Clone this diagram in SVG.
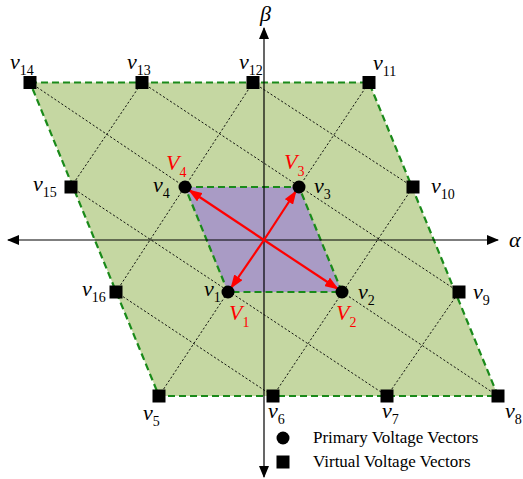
<svg xmlns="http://www.w3.org/2000/svg" width="523" height="479" viewBox="0 0 523 479">
<defs>
<style>
.dot{stroke:#000;stroke-width:0.9;stroke-dasharray:2.2,2;fill:none}
.bd{stroke:#1a8a1a;stroke-width:2.2;stroke-dasharray:7,4;fill:none}
.ax{stroke:#000;stroke-width:1.2;fill:none}
.ra{stroke:#f00;stroke-width:2.2;fill:none;marker-end:url(#rh)}
.lbl{font-family:"Liberation Serif","Times New Roman",serif;font-style:italic;font-size:22px;fill:#000}
.sub{font-style:normal;font-size:14px}
.red{fill:#f00}
.leg{font-family:"Liberation Serif","Times New Roman",serif;font-size:17px;fill:#000}
</style>
<marker id="ah2" markerWidth="12" markerHeight="10" refX="11" refY="5" orient="auto-start-reverse" markerUnits="userSpaceOnUse"><path d="M0,0 L12,5 L0,10 Z" fill="#000"/></marker>
<marker id="rh" markerWidth="14" markerHeight="10" refX="13" refY="5" orient="auto" markerUnits="userSpaceOnUse"><path d="M0,0 L14,5 L0,10 Z" fill="#f00"/></marker>
<rect id="sq" x="-6.5" y="-6.5" width="13" height="13" fill="#000"/>
</defs>

<g id="regions">
<polygon points="30,82.5 369,82.5 498,396 159,396" fill="#c5d7a2"/>
<polygon points="185,187 299,187 342,292 228,292" fill="#a99bc5"/>
</g>

<g id="connectors">
<g id="grid">
<line class="dot" x1="71" y1="187" x2="142" y2="82.5"/>
<line class="dot" x1="116" y1="292" x2="253" y2="82.5"/>
<line class="dot" x1="159" y1="396" x2="228" y2="292"/>
<line class="dot" x1="299" y1="187" x2="369" y2="82.5"/>
<line class="dot" x1="273" y1="396" x2="413" y2="187"/>
<line class="dot" x1="387" y1="396" x2="459" y2="292"/>
<line class="dot" x1="116" y1="292" x2="273" y2="396"/>
<line class="dot" x1="71" y1="187" x2="387" y2="396"/>
<line class="dot" x1="30" y1="82.5" x2="185" y2="187"/>
<line class="dot" x1="342" y1="292" x2="498" y2="396"/>
<line class="dot" x1="142" y1="82.5" x2="459" y2="292"/>
<line class="dot" x1="253" y1="82.5" x2="413" y2="187"/>
</g>
<g id="borders">
<polygon class="bd" points="30,82.5 369,82.5 498,396 159,396"/>
<polygon class="bd" points="185,187 299,187 342,292 228,292"/>
</g>
<g id="axes">
<line class="ax" x1="8" y1="240" x2="498" y2="240" marker-start="url(#ah2)" marker-end="url(#ah2)"/>
<line class="ax" x1="264" y1="477" x2="264" y2="28" marker-start="url(#ah2)" marker-end="url(#ah2)"/>
</g>
<g id="vectors">
<line class="ra" x1="264" y1="240" x2="189" y2="190"/>
<line class="ra" x1="264" y1="240" x2="296" y2="191"/>
<line class="ra" x1="264" y1="240" x2="338" y2="289"/>
<line class="ra" x1="264" y1="240" x2="231" y2="288"/>
</g>
</g>

<g id="primary">
<circle id="v1" cx="228" cy="292" r="6.5"/>
<circle id="v2" cx="342" cy="292" r="6.5"/>
<circle id="v3" cx="299" cy="187" r="6.5"/>
<circle id="v4" cx="185" cy="187" r="6.5"/>
</g>
<g id="virtual">
<use id="v5" href="#sq" x="159" y="396"/>
<use id="v6" href="#sq" x="273" y="396"/>
<use id="v7" href="#sq" x="387" y="396"/>
<use id="v8" href="#sq" x="498" y="396"/>
<use id="v9" href="#sq" x="459" y="292"/>
<use id="v10" href="#sq" x="413" y="187"/>
<use id="v11" href="#sq" x="369" y="82.5"/>
<use id="v12" href="#sq" x="253" y="82.5"/>
<use id="v13" href="#sq" x="142" y="82.5"/>
<use id="v14" href="#sq" x="30" y="82.5"/>
<use id="v15" href="#sq" x="71" y="187"/>
<use id="v16" href="#sq" x="116" y="292"/>
</g>

<g id="labels">
<text class="lbl" x="10" y="69">v<tspan class="sub" dy="6">14</tspan></text>
<text class="lbl" x="127" y="69">v<tspan class="sub" dy="6">13</tspan></text>
<text class="lbl" x="239" y="69">v<tspan class="sub" dy="6">12</tspan></text>
<text class="lbl" x="373" y="70">v<tspan class="sub" dy="6">11</tspan></text>
<text class="lbl" x="33" y="191">v<tspan class="sub" dy="6">15</tspan></text>
<text class="lbl" x="153" y="192">v<tspan class="sub" dy="6">4</tspan></text>
<text class="lbl" x="314" y="193">v<tspan class="sub" dy="6">3</tspan></text>
<text class="lbl" x="431" y="193">v<tspan class="sub" dy="6">10</tspan></text>
<text class="lbl" x="82" y="296">v<tspan class="sub" dy="6">16</tspan></text>
<text class="lbl" x="204" y="296">v<tspan class="sub" dy="6">1</tspan></text>
<text class="lbl" x="358" y="299">v<tspan class="sub" dy="6">2</tspan></text>
<text class="lbl" x="473" y="299">v<tspan class="sub" dy="6">9</tspan></text>
<text class="lbl" x="143" y="420">v<tspan class="sub" dy="6">5</tspan></text>
<text class="lbl" x="268" y="418">v<tspan class="sub" dy="6">6</tspan></text>
<text class="lbl" x="382" y="418">v<tspan class="sub" dy="6">7</tspan></text>
<text class="lbl" x="505" y="418">v<tspan class="sub" dy="6">8</tspan></text>
<text class="lbl red" x="166" y="170">V<tspan class="sub" dy="7">4</tspan></text>
<text class="lbl red" x="284" y="169">V<tspan class="sub" dy="7">3</tspan></text>
<text class="lbl red" x="229" y="320">V<tspan class="sub" dy="7">1</tspan></text>
<text class="lbl red" x="336" y="320">V<tspan class="sub" dy="7">2</tspan></text>
<text class="lbl" x="509" y="247">α</text>
<text class="lbl" x="260" y="21">β</text>
</g>

<g id="legend">
<circle cx="283" cy="438" r="6.5"/>
<use href="#sq" x="283" y="462"/>
<text class="leg" x="313" y="443">Primary Voltage Vectors</text>
<text class="leg" x="313" y="467">Virtual Voltage Vectors</text>
</g>
</svg>
